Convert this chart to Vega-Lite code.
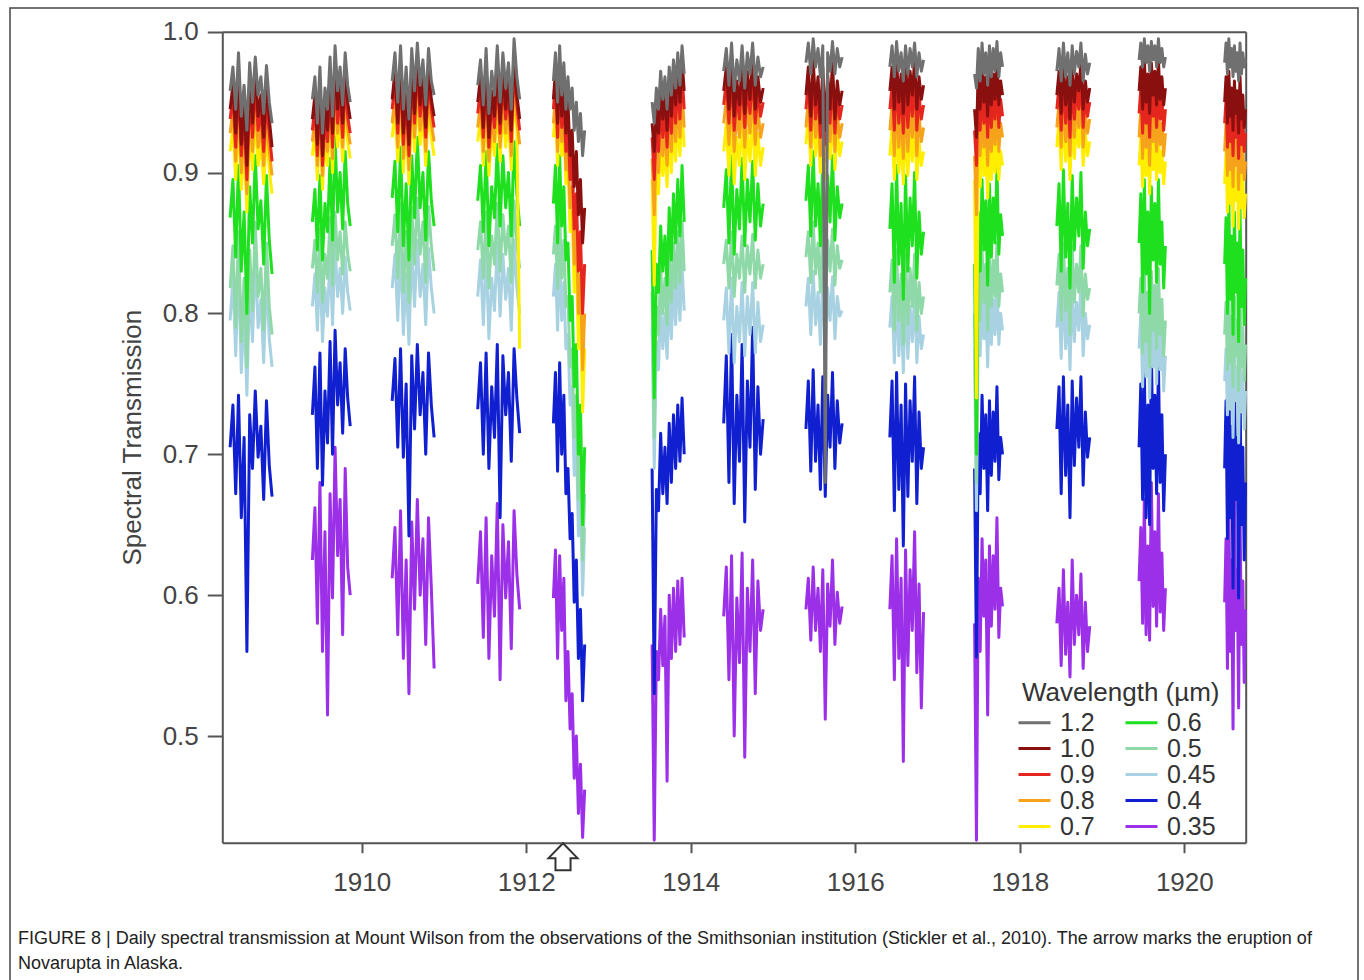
{
  "$schema": "https://vega.github.io/schema/vega-lite/v6.json",
  "width": 1348,
  "height": 985,
  "autosize": "none",
  "padding": {"left": 10, "top": 8, "right": 6, "bottom": 0},
  "background": "white",
  "config": {
    "font": "Liberation Sans",
    "view": {"stroke": "#444444", "strokeWidth": 1.5},
    "axis": {"grid": false}
  },
  "title": {
    "text": ["FIGURE 8 | Daily spectral transmission at Mount Wilson from the observations of the Smithsonian institution (Stickler et al., 2010). The arrow marks the eruption of", "Novarupta in Alaska."],
    "orient": "bottom",
    "anchor": "start",
    "frame": "group",
    "offset": -63,
    "dx": 8,
    "fontSize": 18,
    "fontWeight": "normal",
    "color": "#222222",
    "lineHeight": 25,
    "font": "Liberation Sans"
  },
  "layer": [
    {
      "data": {"values": [
        {"s":1,"t":1908.400,"a":0.958,"b":0.945,"c":0.938,"d":0.928,"e":0.915,"f":0.868,"g":0.818,"h":0.795,"i":0.705},
        {"s":1,"t":1908.434,"a":0.975,"b":0.962,"c":0.955,"d":0.945,"e":0.932,"f":0.895,"g":0.848,"h":0.825,"i":0.735},
        {"s":1,"t":1908.468,"a":0.945,"b":0.928,"c":0.918,"d":0.908,"e":0.895,"f":0.840,"g":0.790,"h":0.770,"i":0.672},
        {"s":1,"t":1908.502,"a":0.985,"b":0.972,"c":0.962,"d":0.952,"e":0.940,"f":0.905,"g":0.858,"h":0.835,"i":0.742},
        {"s":1,"t":1908.536,"a":0.940,"b":0.920,"c":0.912,"d":0.900,"e":0.888,"f":0.830,"g":0.780,"h":0.758,"i":0.655},
        {"s":1,"t":1908.570,"a":0.962,"b":0.950,"c":0.942,"d":0.930,"e":0.918,"f":0.872,"g":0.825,"h":0.802,"i":0.712},
        {"s":1,"t":1908.604,"a":0.930,"b":0.905,"c":0.895,"d":0.885,"e":0.872,"f":0.800,"g":0.762,"h":0.742,"i":0.560},
        {"s":1,"t":1908.638,"a":0.978,"b":0.965,"c":0.955,"d":0.945,"e":0.932,"f":0.890,"g":0.845,"h":0.822,"i":0.728},
        {"s":1,"t":1908.672,"a":0.950,"b":0.935,"c":0.925,"d":0.915,"e":0.902,"f":0.850,"g":0.802,"h":0.780,"i":0.690},
        {"s":1,"t":1908.706,"a":0.982,"b":0.975,"c":0.965,"d":0.952,"e":0.940,"f":0.912,"g":0.865,"h":0.842,"i":0.745},
        {"s":1,"t":1908.740,"a":0.955,"b":0.940,"c":0.930,"d":0.918,"e":0.905,"f":0.860,"g":0.812,"h":0.790,"i":0.698},
        {"s":1,"t":1908.774,"a":0.968,"b":0.955,"c":0.945,"d":0.935,"e":0.922,"f":0.880,"g":0.832,"h":0.810,"i":0.720},
        {"s":1,"t":1908.808,"a":0.942,"b":0.925,"c":0.915,"d":0.905,"e":0.892,"f":0.835,"g":0.788,"h":0.765,"i":0.668},
        {"s":1,"t":1908.842,"a":0.976,"b":0.962,"c":0.950,"d":0.940,"e":0.928,"f":0.898,"g":0.850,"h":0.828,"i":0.738},
        {"s":1,"t":1908.876,"a":0.950,"b":0.938,"c":0.928,"d":0.915,"e":0.902,"f":0.852,"g":0.805,"h":0.782,"i":0.692},
        {"s":1,"t":1908.910,"a":0.935,"b":0.918,"c":0.908,"d":0.898,"e":0.885,"f":0.828,"g":0.785,"h":0.762,"i":0.670},
        {"s":2,"t":1909.400,"a":0.952,"b":0.938,"c":0.930,"d":0.922,"e":0.912,"f":0.865,"g":0.832,"h":0.805,"i":0.728,"j":0.625},
        {"s":2,"t":1909.431,"a":0.968,"b":0.955,"c":0.948,"d":0.940,"e":0.930,"f":0.888,"g":0.852,"h":0.828,"i":0.762,"j":0.662},
        {"s":2,"t":1909.461,"a":0.935,"b":0.920,"c":0.912,"d":0.905,"e":0.895,"f":0.845,"g":0.815,"h":0.788,"i":0.690,"j":0.580},
        {"s":2,"t":1909.492,"a":0.975,"b":0.962,"c":0.955,"d":0.948,"e":0.938,"f":0.898,"g":0.860,"h":0.836,"i":0.772,"j":0.680},
        {"s":2,"t":1909.523,"a":0.928,"b":0.912,"c":0.905,"d":0.898,"e":0.888,"f":0.838,"g":0.808,"h":0.780,"i":0.678,"j":0.560},
        {"s":2,"t":1909.553,"a":0.960,"b":0.948,"c":0.940,"d":0.932,"e":0.922,"f":0.878,"g":0.842,"h":0.818,"i":0.745,"j":0.645},
        {"s":2,"t":1909.584,"a":0.945,"b":0.930,"c":0.922,"d":0.915,"e":0.905,"f":0.858,"g":0.825,"h":0.798,"i":0.708,"j":0.515},
        {"s":2,"t":1909.615,"a":0.982,"b":0.972,"c":0.962,"d":0.955,"e":0.945,"f":0.910,"g":0.868,"h":0.842,"i":0.780,"j":0.672},
        {"s":2,"t":1909.645,"a":0.940,"b":0.928,"c":0.918,"d":0.910,"e":0.900,"f":0.852,"g":0.820,"h":0.792,"i":0.700,"j":0.598},
        {"s":2,"t":1909.676,"a":0.990,"b":0.980,"c":0.970,"d":0.962,"e":0.952,"f":0.925,"g":0.872,"h":0.848,"i":0.788,"j":0.705},
        {"s":2,"t":1909.707,"a":0.958,"b":0.945,"c":0.935,"d":0.928,"e":0.918,"f":0.872,"g":0.838,"h":0.812,"i":0.735,"j":0.628},
        {"s":2,"t":1909.737,"a":0.975,"b":0.965,"c":0.955,"d":0.948,"e":0.938,"f":0.900,"g":0.858,"h":0.832,"i":0.765,"j":0.668},
        {"s":2,"t":1909.768,"a":0.948,"b":0.935,"c":0.925,"d":0.918,"e":0.908,"f":0.860,"g":0.828,"h":0.800,"i":0.715,"j":0.572},
        {"s":2,"t":1909.799,"a":0.985,"b":0.975,"c":0.965,"d":0.956,"e":0.946,"f":0.915,"g":0.865,"h":0.840,"i":0.775,"j":0.690},
        {"s":2,"t":1909.829,"a":0.962,"b":0.950,"c":0.940,"d":0.932,"e":0.922,"f":0.878,"g":0.842,"h":0.815,"i":0.740,"j":0.620},
        {"s":2,"t":1909.860,"a":0.950,"b":0.938,"c":0.928,"d":0.920,"e":0.910,"f":0.862,"g":0.830,"h":0.802,"i":0.720,"j":0.600},
        {"s":3,"t":1910.370,"a":0.965,"b":0.952,"c":0.945,"d":0.935,"e":0.925,"f":0.882,"g":0.848,"h":0.818,"i":0.738,"j":0.612},
        {"s":3,"t":1910.404,"a":0.985,"b":0.972,"c":0.965,"d":0.955,"e":0.945,"f":0.908,"g":0.870,"h":0.842,"i":0.768,"j":0.648},
        {"s":3,"t":1910.438,"a":0.950,"b":0.935,"c":0.928,"d":0.918,"e":0.908,"f":0.858,"g":0.825,"h":0.795,"i":0.705,"j":0.572},
        {"s":3,"t":1910.472,"a":0.990,"b":0.978,"c":0.970,"d":0.962,"e":0.952,"f":0.918,"g":0.878,"h":0.848,"i":0.775,"j":0.660},
        {"s":3,"t":1910.506,"a":0.945,"b":0.928,"c":0.920,"d":0.910,"e":0.900,"f":0.848,"g":0.815,"h":0.785,"i":0.698,"j":0.555},
        {"s":3,"t":1910.540,"a":0.975,"b":0.962,"c":0.955,"d":0.945,"e":0.935,"f":0.892,"g":0.858,"h":0.828,"i":0.750,"j":0.625},
        {"s":3,"t":1910.574,"a":0.938,"b":0.920,"c":0.912,"d":0.902,"e":0.892,"f":0.838,"g":0.808,"h":0.778,"i":0.642,"j":0.530},
        {"s":3,"t":1910.608,"a":0.988,"b":0.975,"c":0.968,"d":0.958,"e":0.948,"f":0.912,"g":0.875,"h":0.845,"i":0.770,"j":0.652},
        {"s":3,"t":1910.642,"a":0.958,"b":0.942,"c":0.935,"d":0.925,"e":0.915,"f":0.868,"g":0.835,"h":0.805,"i":0.718,"j":0.590},
        {"s":3,"t":1910.676,"a":0.992,"b":0.982,"c":0.975,"d":0.965,"e":0.955,"f":0.925,"g":0.882,"h":0.852,"i":0.778,"j":0.668},
        {"s":3,"t":1910.710,"a":0.962,"b":0.948,"c":0.940,"d":0.930,"e":0.920,"f":0.875,"g":0.842,"h":0.812,"i":0.728,"j":0.600},
        {"s":3,"t":1910.744,"a":0.980,"b":0.968,"c":0.960,"d":0.950,"e":0.940,"f":0.900,"g":0.865,"h":0.835,"i":0.758,"j":0.640},
        {"s":3,"t":1910.778,"a":0.948,"b":0.932,"c":0.925,"d":0.915,"e":0.905,"f":0.852,"g":0.822,"h":0.792,"i":0.700,"j":0.565},
        {"s":3,"t":1910.812,"a":0.988,"b":0.975,"c":0.968,"d":0.958,"e":0.948,"f":0.915,"g":0.876,"h":0.846,"i":0.772,"j":0.655},
        {"s":3,"t":1910.846,"a":0.965,"b":0.952,"c":0.945,"d":0.935,"e":0.925,"f":0.880,"g":0.848,"h":0.818,"i":0.735,"j":0.605},
        {"s":3,"t":1910.880,"a":0.955,"b":0.940,"c":0.932,"d":0.922,"e":0.912,"f":0.862,"g":0.830,"h":0.800,"i":0.712,"j":0.548},
        {"s":4,"t":1911.410,"a":0.962,"b":0.950,"c":0.942,"d":0.932,"e":0.922,"f":0.880,"g":0.845,"h":0.812,"i":0.732,"j":0.608},
        {"s":4,"t":1911.444,"a":0.980,"b":0.968,"c":0.960,"d":0.950,"e":0.940,"f":0.905,"g":0.865,"h":0.838,"i":0.765,"j":0.645},
        {"s":4,"t":1911.478,"a":0.948,"b":0.932,"c":0.925,"d":0.915,"e":0.905,"f":0.858,"g":0.825,"h":0.792,"i":0.700,"j":0.570},
        {"s":4,"t":1911.512,"a":0.988,"b":0.975,"c":0.968,"d":0.958,"e":0.948,"f":0.915,"g":0.872,"h":0.845,"i":0.772,"j":0.655},
        {"s":4,"t":1911.546,"a":0.942,"b":0.925,"c":0.918,"d":0.908,"e":0.898,"f":0.848,"g":0.818,"h":0.782,"i":0.690,"j":0.555},
        {"s":4,"t":1911.580,"a":0.972,"b":0.958,"c":0.950,"d":0.940,"e":0.930,"f":0.890,"g":0.855,"h":0.825,"i":0.748,"j":0.628},
        {"s":4,"t":1911.614,"a":0.955,"b":0.940,"c":0.932,"d":0.922,"e":0.912,"f":0.868,"g":0.835,"h":0.802,"i":0.712,"j":0.585},
        {"s":4,"t":1911.648,"a":0.990,"b":0.978,"c":0.970,"d":0.960,"e":0.950,"f":0.920,"g":0.878,"h":0.850,"i":0.778,"j":0.665},
        {"s":4,"t":1911.682,"a":0.950,"b":0.935,"c":0.928,"d":0.918,"e":0.908,"f":0.862,"g":0.830,"h":0.798,"i":0.655,"j":0.540},
        {"s":4,"t":1911.716,"a":0.985,"b":0.972,"c":0.965,"d":0.955,"e":0.945,"f":0.912,"g":0.870,"h":0.842,"i":0.770,"j":0.650},
        {"s":4,"t":1911.750,"a":0.960,"b":0.945,"c":0.938,"d":0.928,"e":0.918,"f":0.875,"g":0.842,"h":0.810,"i":0.728,"j":0.598},
        {"s":4,"t":1911.784,"a":0.978,"b":0.965,"c":0.958,"d":0.948,"e":0.938,"f":0.900,"g":0.862,"h":0.832,"i":0.758,"j":0.638},
        {"s":4,"t":1911.818,"a":0.945,"b":0.930,"c":0.922,"d":0.912,"e":0.902,"f":0.855,"g":0.822,"h":0.788,"i":0.695,"j":0.562},
        {"s":4,"t":1911.852,"a":0.995,"b":0.982,"c":0.975,"d":0.965,"e":0.955,"f":0.922,"g":0.880,"h":0.852,"i":0.775,"j":0.660},
        {"s":4,"t":1911.886,"a":0.968,"b":0.955,"c":0.948,"d":0.938,"e":0.930,"f":0.885,"g":0.850,"h":0.818,"i":0.740,"j":0.615},
        {"s":4,"t":1911.920,"a":0.952,"b":0.938,"c":0.930,"d":0.920,"e":0.775,"f":0.862,"g":0.832,"h":0.800,"i":0.715,"j":0.590},
        {"s":5,"t":1912.330,"a":0.965,"b":0.952,"c":0.945,"d":0.935,"e":0.925,"f":0.878,"g":0.842,"h":0.812,"i":0.722,"j":0.598},
        {"s":5,"t":1912.355,"a":0.985,"b":0.972,"c":0.965,"d":0.955,"e":0.945,"f":0.905,"g":0.862,"h":0.835,"i":0.758,"j":0.632},
        {"s":5,"t":1912.381,"a":0.950,"b":0.935,"c":0.925,"d":0.915,"e":0.905,"f":0.850,"g":0.818,"h":0.788,"i":0.688,"j":0.555},
        {"s":5,"t":1912.406,"a":0.990,"b":0.978,"c":0.970,"d":0.960,"e":0.950,"f":0.912,"g":0.870,"h":0.842,"i":0.765,"j":0.628},
        {"s":5,"t":1912.431,"a":0.955,"b":0.940,"c":0.932,"d":0.922,"e":0.912,"f":0.862,"g":0.825,"h":0.795,"i":0.700,"j":0.575},
        {"s":5,"t":1912.457,"a":0.978,"b":0.965,"c":0.955,"d":0.945,"e":0.935,"f":0.890,"g":0.852,"h":0.822,"i":0.742,"j":0.612},
        {"s":5,"t":1912.482,"a":0.945,"b":0.928,"c":0.915,"d":0.902,"e":0.892,"f":0.838,"g":0.805,"h":0.775,"i":0.672,"j":0.525},
        {"s":5,"t":1912.507,"a":0.968,"b":0.950,"c":0.935,"d":0.920,"e":0.905,"f":0.850,"g":0.812,"h":0.785,"i":0.690,"j":0.560},
        {"s":5,"t":1912.533,"a":0.945,"b":0.912,"c":0.895,"d":0.875,"e":0.858,"f":0.795,"g":0.762,"h":0.735,"i":0.640,"j":0.505},
        {"s":5,"t":1912.558,"a":0.960,"b":0.930,"c":0.912,"d":0.890,"e":0.872,"f":0.812,"g":0.775,"h":0.748,"i":0.658,"j":0.530},
        {"s":5,"t":1912.583,"a":0.930,"b":0.890,"c":0.860,"d":0.835,"e":0.815,"f":0.748,"g":0.712,"h":0.685,"i":0.595,"j":0.470},
        {"s":5,"t":1912.609,"a":0.950,"b":0.915,"c":0.885,"d":0.862,"e":0.842,"f":0.778,"g":0.742,"h":0.715,"i":0.625,"j":0.500},
        {"s":5,"t":1912.634,"a":0.922,"b":0.870,"c":0.830,"d":0.800,"e":0.775,"f":0.700,"g":0.668,"h":0.642,"i":0.555,"j":0.445},
        {"s":5,"t":1912.659,"a":0.942,"b":0.895,"c":0.858,"d":0.828,"e":0.805,"f":0.735,"g":0.700,"h":0.675,"i":0.590,"j":0.480},
        {"s":5,"t":1912.685,"a":0.912,"b":0.850,"c":0.800,"d":0.760,"e":0.730,"f":0.650,"g":0.625,"h":0.600,"i":0.525,"j":0.428},
        {"s":5,"t":1912.710,"a":0.930,"b":0.875,"c":0.835,"d":0.800,"e":0.775,"f":0.705,"g":0.672,"h":0.648,"i":0.565,"j":0.462},
        {"s":6,"t":1913.530,"a":0.950,"b":0.935,"c":0.925,"d":0.910,"e":0.895,"f":0.845,"g":0.815,"h":0.790,"i":0.690,"j":0.565},
        {"s":6,"t":1913.556,"a":0.935,"b":0.915,"c":0.895,"d":0.870,"e":0.820,"f":0.740,"g":0.712,"h":0.690,"i":0.530,"j":0.426},
        {"s":6,"t":1913.582,"a":0.960,"b":0.945,"c":0.935,"d":0.922,"e":0.910,"f":0.835,"g":0.805,"h":0.780,"i":0.675,"j":0.560},
        {"s":6,"t":1913.608,"a":0.945,"b":0.928,"c":0.915,"d":0.900,"e":0.885,"f":0.815,"g":0.785,"h":0.760,"i":0.660,"j":0.540},
        {"s":6,"t":1913.634,"a":0.972,"b":0.960,"c":0.950,"d":0.938,"e":0.925,"f":0.862,"g":0.832,"h":0.808,"i":0.715,"j":0.590},
        {"s":6,"t":1913.660,"a":0.952,"b":0.938,"c":0.925,"d":0.912,"e":0.898,"f":0.830,"g":0.800,"h":0.775,"i":0.672,"j":0.550},
        {"s":6,"t":1913.686,"a":0.968,"b":0.955,"c":0.945,"d":0.932,"e":0.918,"f":0.855,"g":0.825,"h":0.800,"i":0.705,"j":0.585},
        {"s":6,"t":1913.712,"a":0.945,"b":0.930,"c":0.918,"d":0.905,"e":0.890,"f":0.820,"g":0.792,"h":0.768,"i":0.665,"j":0.468},
        {"s":6,"t":1913.738,"a":0.975,"b":0.965,"c":0.955,"d":0.942,"e":0.930,"f":0.875,"g":0.842,"h":0.815,"i":0.722,"j":0.600},
        {"s":6,"t":1913.764,"a":0.955,"b":0.940,"c":0.928,"d":0.915,"e":0.900,"f":0.838,"g":0.808,"h":0.782,"i":0.680,"j":0.555},
        {"s":6,"t":1913.790,"a":0.980,"b":0.970,"c":0.960,"d":0.948,"e":0.935,"f":0.885,"g":0.850,"h":0.822,"i":0.728,"j":0.605},
        {"s":6,"t":1913.816,"a":0.960,"b":0.948,"c":0.935,"d":0.922,"e":0.908,"f":0.850,"g":0.818,"h":0.792,"i":0.690,"j":0.560},
        {"s":6,"t":1913.842,"a":0.985,"b":0.975,"c":0.965,"d":0.952,"e":0.940,"f":0.895,"g":0.858,"h":0.830,"i":0.735,"j":0.610},
        {"s":6,"t":1913.868,"a":0.962,"b":0.950,"c":0.938,"d":0.925,"e":0.912,"f":0.855,"g":0.822,"h":0.795,"i":0.695,"j":0.565},
        {"s":6,"t":1913.894,"a":0.990,"b":0.980,"c":0.970,"d":0.958,"e":0.945,"f":0.905,"g":0.865,"h":0.835,"i":0.740,"j":0.612},
        {"s":6,"t":1913.920,"a":0.970,"b":0.958,"c":0.945,"d":0.932,"e":0.918,"f":0.865,"g":0.830,"h":0.802,"i":0.700,"j":0.570},
        {"s":7,"t":1914.400,"a":0.972,"b":0.958,"c":0.948,"d":0.935,"e":0.915,"f":0.875,"g":0.835,"h":0.795,"i":0.722,"j":0.585},
        {"s":7,"t":1914.432,"a":0.988,"b":0.975,"c":0.965,"d":0.952,"e":0.935,"f":0.902,"g":0.852,"h":0.818,"i":0.770,"j":0.620},
        {"s":7,"t":1914.464,"a":0.962,"b":0.945,"c":0.935,"d":0.920,"e":0.898,"f":0.850,"g":0.818,"h":0.772,"i":0.680,"j":0.540},
        {"s":7,"t":1914.496,"a":0.992,"b":0.980,"c":0.970,"d":0.958,"e":0.942,"f":0.912,"g":0.858,"h":0.825,"i":0.785,"j":0.628},
        {"s":7,"t":1914.528,"a":0.958,"b":0.940,"c":0.930,"d":0.915,"e":0.892,"f":0.842,"g":0.812,"h":0.765,"i":0.665,"j":0.500},
        {"s":7,"t":1914.560,"a":0.980,"b":0.965,"c":0.955,"d":0.942,"e":0.925,"f":0.888,"g":0.842,"h":0.805,"i":0.742,"j":0.598},
        {"s":7,"t":1914.592,"a":0.965,"b":0.948,"c":0.938,"d":0.925,"e":0.905,"f":0.860,"g":0.825,"h":0.780,"i":0.695,"j":0.552},
        {"s":7,"t":1914.624,"a":0.990,"b":0.978,"c":0.968,"d":0.955,"e":0.940,"f":0.910,"g":0.855,"h":0.822,"i":0.778,"j":0.630},
        {"s":7,"t":1914.656,"a":0.960,"b":0.942,"c":0.932,"d":0.918,"e":0.895,"f":0.848,"g":0.815,"h":0.770,"i":0.652,"j":0.485},
        {"s":7,"t":1914.688,"a":0.985,"b":0.972,"c":0.962,"d":0.948,"e":0.930,"f":0.895,"g":0.848,"h":0.812,"i":0.752,"j":0.605},
        {"s":7,"t":1914.720,"a":0.970,"b":0.952,"c":0.942,"d":0.928,"e":0.908,"f":0.865,"g":0.828,"h":0.785,"i":0.705,"j":0.560},
        {"s":7,"t":1914.752,"a":0.992,"b":0.980,"c":0.970,"d":0.958,"e":0.942,"f":0.908,"g":0.856,"h":0.822,"i":0.790,"j":0.625},
        {"s":7,"t":1914.784,"a":0.962,"b":0.945,"c":0.935,"d":0.920,"e":0.898,"f":0.852,"g":0.818,"h":0.772,"i":0.675,"j":0.530},
        {"s":7,"t":1914.816,"a":0.982,"b":0.968,"c":0.958,"d":0.945,"e":0.928,"f":0.892,"g":0.845,"h":0.808,"i":0.748,"j":0.610},
        {"s":7,"t":1914.848,"a":0.968,"b":0.950,"c":0.940,"d":0.925,"e":0.905,"f":0.862,"g":0.825,"h":0.780,"i":0.700,"j":0.575},
        {"s":7,"t":1914.880,"a":0.975,"b":0.960,"c":0.950,"d":0.935,"e":0.918,"f":0.878,"g":0.835,"h":0.792,"i":0.725,"j":0.590},
        {"s":8,"t":1915.400,"a":0.978,"b":0.955,"c":0.945,"d":0.932,"e":0.920,"f":0.880,"g":0.840,"h":0.805,"i":0.718,"j":0.590},
        {"s":8,"t":1915.429,"a":0.992,"b":0.975,"c":0.965,"d":0.952,"e":0.940,"f":0.905,"g":0.858,"h":0.825,"i":0.752,"j":0.612},
        {"s":8,"t":1915.459,"a":0.970,"b":0.940,"c":0.930,"d":0.918,"e":0.905,"f":0.855,"g":0.822,"h":0.785,"i":0.688,"j":0.568},
        {"s":8,"t":1915.488,"a":0.995,"b":0.980,"c":0.970,"d":0.958,"e":0.945,"f":0.915,"g":0.865,"h":0.830,"i":0.760,"j":0.620},
        {"s":8,"t":1915.517,"a":0.975,"b":0.948,"c":0.938,"d":0.925,"e":0.912,"f":0.862,"g":0.828,"h":0.792,"i":0.695,"j":0.575},
        {"s":8,"t":1915.547,"a":0.988,"b":0.968,"c":0.958,"d":0.945,"e":0.932,"f":0.892,"g":0.850,"h":0.815,"i":0.735,"j":0.605},
        {"s":8,"t":1915.576,"a":0.968,"b":0.935,"c":0.925,"d":0.912,"e":0.900,"f":0.848,"g":0.815,"h":0.778,"i":0.675,"j":0.560},
        {"s":8,"t":1915.605,"a":0.990,"b":0.975,"c":0.965,"d":0.952,"e":0.940,"f":0.910,"g":0.862,"h":0.828,"i":0.755,"j":0.618},
        {"s":8,"t":1915.635,"a":0.680,"b":0.930,"c":0.920,"d":0.908,"e":0.895,"f":0.845,"g":0.812,"h":0.772,"i":0.670,"j":0.512},
        {"s":8,"t":1915.664,"a":0.985,"b":0.970,"c":0.960,"d":0.948,"e":0.935,"f":0.898,"g":0.852,"h":0.818,"i":0.742,"j":0.608},
        {"s":8,"t":1915.693,"a":0.972,"b":0.945,"c":0.935,"d":0.922,"e":0.910,"f":0.865,"g":0.830,"h":0.795,"i":0.705,"j":0.578},
        {"s":8,"t":1915.723,"a":0.993,"b":0.978,"c":0.968,"d":0.955,"e":0.942,"f":0.912,"g":0.860,"h":0.826,"i":0.758,"j":0.625},
        {"s":8,"t":1915.752,"a":0.970,"b":0.938,"c":0.928,"d":0.915,"e":0.902,"f":0.852,"g":0.820,"h":0.782,"i":0.690,"j":0.565},
        {"s":8,"t":1915.781,"a":0.988,"b":0.965,"c":0.955,"d":0.942,"e":0.930,"f":0.890,"g":0.848,"h":0.812,"i":0.738,"j":0.602},
        {"s":8,"t":1915.811,"a":0.975,"b":0.948,"c":0.938,"d":0.925,"e":0.912,"f":0.868,"g":0.832,"h":0.798,"i":0.708,"j":0.580},
        {"s":8,"t":1915.840,"a":0.982,"b":0.958,"c":0.948,"d":0.935,"e":0.922,"f":0.878,"g":0.838,"h":0.802,"i":0.722,"j":0.592},
        {"s":9,"t":1916.420,"a":0.975,"b":0.958,"c":0.945,"d":0.930,"e":0.912,"f":0.860,"g":0.815,"h":0.790,"i":0.712,"j":0.590},
        {"s":9,"t":1916.447,"a":0.990,"b":0.975,"c":0.962,"d":0.948,"e":0.932,"f":0.892,"g":0.838,"h":0.812,"i":0.752,"j":0.628},
        {"s":9,"t":1916.475,"a":0.968,"b":0.945,"c":0.930,"d":0.912,"e":0.895,"f":0.822,"g":0.788,"h":0.765,"i":0.660,"j":0.540},
        {"s":9,"t":1916.502,"a":0.993,"b":0.980,"c":0.968,"d":0.955,"e":0.940,"f":0.905,"g":0.845,"h":0.818,"i":0.758,"j":0.640},
        {"s":9,"t":1916.529,"a":0.972,"b":0.950,"c":0.935,"d":0.918,"e":0.900,"f":0.835,"g":0.795,"h":0.770,"i":0.675,"j":0.555},
        {"s":9,"t":1916.557,"a":0.985,"b":0.970,"c":0.958,"d":0.942,"e":0.925,"f":0.878,"g":0.828,"h":0.802,"i":0.735,"j":0.612},
        {"s":9,"t":1916.584,"a":0.965,"b":0.942,"c":0.928,"d":0.910,"e":0.892,"f":0.810,"g":0.778,"h":0.758,"i":0.635,"j":0.482},
        {"s":9,"t":1916.611,"a":0.990,"b":0.978,"c":0.965,"d":0.952,"e":0.935,"f":0.898,"g":0.842,"h":0.815,"i":0.750,"j":0.632},
        {"s":9,"t":1916.639,"a":0.970,"b":0.948,"c":0.932,"d":0.915,"e":0.898,"f":0.830,"g":0.792,"h":0.768,"i":0.670,"j":0.550},
        {"s":9,"t":1916.666,"a":0.988,"b":0.972,"c":0.960,"d":0.945,"e":0.928,"f":0.882,"g":0.832,"h":0.805,"i":0.738,"j":0.618},
        {"s":9,"t":1916.693,"a":0.975,"b":0.955,"c":0.940,"d":0.925,"e":0.908,"f":0.848,"g":0.805,"h":0.780,"i":0.695,"j":0.575},
        {"s":9,"t":1916.721,"a":0.992,"b":0.980,"c":0.968,"d":0.955,"e":0.938,"f":0.900,"g":0.842,"h":0.815,"i":0.755,"j":0.645},
        {"s":9,"t":1916.748,"a":0.968,"b":0.945,"c":0.930,"d":0.912,"e":0.895,"f":0.825,"g":0.788,"h":0.765,"i":0.665,"j":0.545},
        {"s":9,"t":1916.775,"a":0.985,"b":0.968,"c":0.955,"d":0.940,"e":0.922,"f":0.872,"g":0.822,"h":0.798,"i":0.730,"j":0.608},
        {"s":9,"t":1916.803,"a":0.972,"b":0.952,"c":0.938,"d":0.922,"e":0.905,"f":0.842,"g":0.800,"h":0.775,"i":0.690,"j":0.520},
        {"s":9,"t":1916.830,"a":0.980,"b":0.962,"c":0.948,"d":0.932,"e":0.915,"f":0.858,"g":0.812,"h":0.785,"i":0.705,"j":0.588},
        {"s":10,"t":1917.450,"a":0.970,"b":0.945,"c":0.930,"d":0.912,"e":0.895,"f":0.835,"g":0.800,"h":0.775,"i":0.690,"j":0.580},
        {"s":10,"t":1917.473,"a":0.960,"b":0.925,"c":0.905,"d":0.870,"e":0.740,"f":0.700,"g":0.680,"h":0.660,"i":0.556,"j":0.426},
        {"s":10,"t":1917.495,"a":0.988,"b":0.972,"c":0.960,"d":0.945,"e":0.925,"f":0.872,"g":0.830,"h":0.805,"i":0.715,"j":0.612},
        {"s":10,"t":1917.518,"a":0.965,"b":0.945,"c":0.930,"d":0.912,"e":0.890,"f":0.830,"g":0.795,"h":0.770,"i":0.672,"j":0.560},
        {"s":10,"t":1917.541,"a":0.992,"b":0.978,"c":0.965,"d":0.950,"e":0.932,"f":0.895,"g":0.845,"h":0.818,"i":0.742,"j":0.640},
        {"s":10,"t":1917.563,"a":0.970,"b":0.950,"c":0.935,"d":0.918,"e":0.898,"f":0.845,"g":0.808,"h":0.782,"i":0.690,"j":0.585},
        {"s":10,"t":1917.586,"a":0.985,"b":0.968,"c":0.955,"d":0.940,"e":0.920,"f":0.880,"g":0.835,"h":0.808,"i":0.728,"j":0.625},
        {"s":10,"t":1917.609,"a":0.962,"b":0.940,"c":0.925,"d":0.905,"e":0.882,"f":0.820,"g":0.788,"h":0.762,"i":0.660,"j":0.515},
        {"s":10,"t":1917.631,"a":0.990,"b":0.975,"c":0.962,"d":0.948,"e":0.928,"f":0.892,"g":0.842,"h":0.815,"i":0.738,"j":0.635},
        {"s":10,"t":1917.654,"a":0.968,"b":0.948,"c":0.932,"d":0.915,"e":0.895,"f":0.840,"g":0.805,"h":0.778,"i":0.685,"j":0.578},
        {"s":10,"t":1917.677,"a":0.988,"b":0.970,"c":0.958,"d":0.942,"e":0.922,"f":0.882,"g":0.838,"h":0.810,"i":0.730,"j":0.628},
        {"s":10,"t":1917.699,"a":0.972,"b":0.952,"c":0.938,"d":0.920,"e":0.900,"f":0.850,"g":0.812,"h":0.785,"i":0.695,"j":0.590},
        {"s":10,"t":1917.722,"a":0.993,"b":0.980,"c":0.968,"d":0.952,"e":0.935,"f":0.905,"g":0.850,"h":0.822,"i":0.748,"j":0.655},
        {"s":10,"t":1917.745,"a":0.968,"b":0.948,"c":0.932,"d":0.915,"e":0.895,"f":0.842,"g":0.805,"h":0.778,"i":0.682,"j":0.570},
        {"s":10,"t":1917.767,"a":0.985,"b":0.965,"c":0.952,"d":0.935,"e":0.915,"f":0.870,"g":0.828,"h":0.800,"i":0.712,"j":0.605},
        {"s":10,"t":1917.790,"a":0.975,"b":0.955,"c":0.940,"d":0.925,"e":0.905,"f":0.855,"g":0.815,"h":0.788,"i":0.700,"j":0.592},
        {"s":11,"t":1918.450,"a":0.972,"b":0.955,"c":0.945,"d":0.932,"e":0.918,"f":0.862,"g":0.820,"h":0.790,"i":0.718,"j":0.580},
        {"s":11,"t":1918.477,"a":0.988,"b":0.972,"c":0.962,"d":0.950,"e":0.938,"f":0.892,"g":0.842,"h":0.815,"i":0.748,"j":0.605},
        {"s":11,"t":1918.503,"a":0.965,"b":0.942,"c":0.930,"d":0.918,"e":0.902,"f":0.830,"g":0.795,"h":0.768,"i":0.672,"j":0.550},
        {"s":11,"t":1918.530,"a":0.992,"b":0.978,"c":0.968,"d":0.955,"e":0.945,"f":0.902,"g":0.850,"h":0.822,"i":0.755,"j":0.618},
        {"s":11,"t":1918.557,"a":0.968,"b":0.948,"c":0.935,"d":0.922,"e":0.908,"f":0.840,"g":0.802,"h":0.775,"i":0.685,"j":0.558},
        {"s":11,"t":1918.583,"a":0.985,"b":0.968,"c":0.958,"d":0.945,"e":0.932,"f":0.878,"g":0.832,"h":0.805,"i":0.735,"j":0.595},
        {"s":11,"t":1918.610,"a":0.962,"b":0.938,"c":0.925,"d":0.912,"e":0.895,"f":0.818,"g":0.785,"h":0.760,"i":0.655,"j":0.542},
        {"s":11,"t":1918.637,"a":0.990,"b":0.975,"c":0.965,"d":0.952,"e":0.940,"f":0.898,"g":0.848,"h":0.820,"i":0.752,"j":0.625},
        {"s":11,"t":1918.663,"a":0.970,"b":0.950,"c":0.938,"d":0.925,"e":0.910,"f":0.845,"g":0.808,"h":0.780,"i":0.692,"j":0.565},
        {"s":11,"t":1918.690,"a":0.986,"b":0.970,"c":0.960,"d":0.948,"e":0.935,"f":0.882,"g":0.835,"h":0.808,"i":0.740,"j":0.600},
        {"s":11,"t":1918.717,"a":0.975,"b":0.958,"c":0.945,"d":0.932,"e":0.918,"f":0.855,"g":0.815,"h":0.788,"i":0.705,"j":0.572},
        {"s":11,"t":1918.743,"a":0.992,"b":0.978,"c":0.968,"d":0.955,"e":0.942,"f":0.900,"g":0.848,"h":0.822,"i":0.755,"j":0.615},
        {"s":11,"t":1918.770,"a":0.965,"b":0.945,"c":0.932,"d":0.918,"e":0.905,"f":0.832,"g":0.798,"h":0.770,"i":0.678,"j":0.548},
        {"s":11,"t":1918.797,"a":0.984,"b":0.965,"c":0.955,"d":0.942,"e":0.928,"f":0.872,"g":0.828,"h":0.800,"i":0.730,"j":0.595},
        {"s":11,"t":1918.823,"a":0.970,"b":0.950,"c":0.940,"d":0.928,"e":0.912,"f":0.848,"g":0.810,"h":0.782,"i":0.698,"j":0.560},
        {"s":11,"t":1918.850,"a":0.978,"b":0.960,"c":0.950,"d":0.938,"e":0.922,"f":0.860,"g":0.818,"h":0.792,"i":0.712,"j":0.578},
        {"s":12,"t":1919.450,"a":0.980,"b":0.958,"c":0.942,"d":0.925,"e":0.905,"f":0.850,"g":0.800,"h":0.775,"i":0.705,"j":0.610},
        {"s":12,"t":1919.471,"a":0.992,"b":0.975,"c":0.960,"d":0.945,"e":0.925,"f":0.885,"g":0.825,"h":0.800,"i":0.750,"j":0.648},
        {"s":12,"t":1919.493,"a":0.975,"b":0.945,"c":0.928,"d":0.910,"e":0.890,"f":0.815,"g":0.772,"h":0.748,"i":0.668,"j":0.580},
        {"s":12,"t":1919.514,"a":0.995,"b":0.980,"c":0.965,"d":0.950,"e":0.930,"f":0.895,"g":0.832,"h":0.808,"i":0.762,"j":0.668},
        {"s":12,"t":1919.535,"a":0.978,"b":0.950,"c":0.935,"d":0.918,"e":0.898,"f":0.828,"g":0.780,"h":0.755,"i":0.655,"j":0.572},
        {"s":12,"t":1919.557,"a":0.990,"b":0.970,"c":0.955,"d":0.940,"e":0.920,"f":0.872,"g":0.815,"h":0.790,"i":0.735,"j":0.635},
        {"s":12,"t":1919.578,"a":0.972,"b":0.942,"c":0.925,"d":0.905,"e":0.885,"f":0.800,"g":0.762,"h":0.740,"i":0.650,"j":0.568},
        {"s":12,"t":1919.599,"a":0.993,"b":0.978,"c":0.962,"d":0.948,"e":0.928,"f":0.890,"g":0.830,"h":0.805,"i":0.775,"j":0.680},
        {"s":12,"t":1919.621,"a":0.980,"b":0.955,"c":0.940,"d":0.922,"e":0.902,"f":0.838,"g":0.788,"h":0.762,"i":0.690,"j":0.592},
        {"s":12,"t":1919.642,"a":0.990,"b":0.972,"c":0.958,"d":0.942,"e":0.922,"f":0.878,"g":0.820,"h":0.795,"i":0.742,"j":0.645},
        {"s":12,"t":1919.663,"a":0.975,"b":0.948,"c":0.932,"d":0.915,"e":0.895,"f":0.822,"g":0.775,"h":0.750,"i":0.672,"j":0.578},
        {"s":12,"t":1919.685,"a":0.995,"b":0.980,"c":0.965,"d":0.950,"e":0.930,"f":0.895,"g":0.832,"h":0.808,"i":0.765,"j":0.672},
        {"s":12,"t":1919.706,"a":0.978,"b":0.952,"c":0.938,"d":0.920,"e":0.900,"f":0.835,"g":0.785,"h":0.760,"i":0.680,"j":0.588},
        {"s":12,"t":1919.727,"a":0.988,"b":0.968,"c":0.952,"d":0.935,"e":0.915,"f":0.865,"g":0.810,"h":0.785,"i":0.728,"j":0.630},
        {"s":12,"t":1919.749,"a":0.975,"b":0.948,"c":0.930,"d":0.912,"e":0.892,"f":0.818,"g":0.770,"h":0.745,"i":0.660,"j":0.575},
        {"s":12,"t":1919.770,"a":0.982,"b":0.960,"c":0.945,"d":0.928,"e":0.908,"f":0.848,"g":0.795,"h":0.770,"i":0.700,"j":0.605},
        {"s":13,"t":1920.490,"a":0.978,"b":0.950,"c":0.935,"d":0.915,"e":0.892,"f":0.835,"g":0.785,"h":0.752,"i":0.690,"j":0.595},
        {"s":13,"t":1920.507,"a":0.992,"b":0.968,"c":0.952,"d":0.935,"e":0.915,"f":0.868,"g":0.808,"h":0.775,"i":0.738,"j":0.640},
        {"s":13,"t":1920.524,"a":0.970,"b":0.935,"c":0.918,"d":0.898,"e":0.872,"f":0.800,"g":0.760,"h":0.728,"i":0.640,"j":0.548},
        {"s":13,"t":1920.541,"a":0.995,"b":0.972,"c":0.958,"d":0.940,"e":0.922,"f":0.880,"g":0.815,"h":0.780,"i":0.765,"j":0.672},
        {"s":13,"t":1920.558,"a":0.975,"b":0.940,"c":0.922,"d":0.902,"e":0.878,"f":0.810,"g":0.765,"h":0.732,"i":0.655,"j":0.560},
        {"s":13,"t":1920.575,"a":0.988,"b":0.960,"c":0.945,"d":0.925,"e":0.905,"f":0.855,"g":0.798,"h":0.765,"i":0.720,"j":0.625},
        {"s":13,"t":1920.592,"a":0.968,"b":0.930,"c":0.912,"d":0.890,"e":0.862,"f":0.785,"g":0.748,"h":0.712,"i":0.605,"j":0.505},
        {"s":13,"t":1920.609,"a":0.990,"b":0.965,"c":0.950,"d":0.932,"e":0.912,"f":0.872,"g":0.812,"h":0.778,"i":0.755,"j":0.688},
        {"s":13,"t":1920.626,"a":0.972,"b":0.942,"c":0.925,"d":0.905,"e":0.880,"f":0.815,"g":0.770,"h":0.738,"i":0.668,"j":0.575},
        {"s":13,"t":1920.643,"a":0.985,"b":0.958,"c":0.942,"d":0.922,"e":0.900,"f":0.850,"g":0.795,"h":0.762,"i":0.712,"j":0.618},
        {"s":13,"t":1920.660,"a":0.965,"b":0.928,"c":0.910,"d":0.888,"e":0.860,"f":0.780,"g":0.745,"h":0.708,"i":0.598,"j":0.520},
        {"s":13,"t":1920.677,"a":0.992,"b":0.968,"c":0.952,"d":0.935,"e":0.915,"f":0.875,"g":0.815,"h":0.780,"i":0.748,"j":0.660},
        {"s":13,"t":1920.694,"a":0.970,"b":0.938,"c":0.920,"d":0.900,"e":0.875,"f":0.805,"g":0.762,"h":0.730,"i":0.650,"j":0.565},
        {"s":13,"t":1920.711,"a":0.985,"b":0.955,"c":0.940,"d":0.920,"e":0.898,"f":0.845,"g":0.790,"h":0.758,"i":0.705,"j":0.610},
        {"s":13,"t":1920.728,"a":0.975,"b":0.932,"c":0.915,"d":0.895,"e":0.868,"f":0.792,"g":0.752,"h":0.718,"i":0.625,"j":0.538},
        {"s":13,"t":1920.744,"a":0.980,"b":0.945,"c":0.928,"d":0.908,"e":0.885,"f":0.825,"g":0.778,"h":0.745,"i":0.680,"j":0.590}
      ]},
      "transform": [
        {"fold": ["j", "i", "h", "g", "f", "e", "d", "c", "b", "a"], "as": ["wl", "v"]},
        {"filter": "isValid(datum.v)"}
      ],
      "mark": {"type": "line", "strokeWidth": 3, "strokeJoin": "round", "clip": false},
      "encoding": {
        "x": {
          "field": "t", "type": "quantitative",
          "scale": {"domain": [1908.305, 1920.746], "range": [212.3, 1235.7], "nice": false, "zero": false},
          "axis": {
            "orient": "bottom", "offset": -150.3,
            "values": [1910, 1912, 1914, 1916, 1918, 1920], "format": "d",
            "title": null, "grid": false, "labelFlush": false,
            "domainColor": "#555555", "domainWidth": 2,
            "tickColor": "#555555", "tickWidth": 2, "tickSize": 10,
            "labelFontSize": 26, "labelColor": "#444444", "labelPadding": 17, "labelFont": "Liberation Sans"
          }
        },
        "y": {
          "field": "v", "type": "quantitative",
          "scale": {"domain": [0.4243, 1.0], "range": [834.7, 23.7], "nice": false, "zero": false},
          "axis": {
            "orient": "left", "offset": -212.3,
            "values": [0.5, 0.6, 0.7, 0.8, 0.9, 1.0], "format": ".1f",
            "title": "Spectral Transmission", "titleFontSize": 26, "titleFontWeight": "normal",
            "titleColor": "#444444", "titlePadding": 17, "titleFont": "Liberation Sans",
            "grid": false,
            "domainColor": "#555555", "domainWidth": 2,
            "tickColor": "#555555", "tickWidth": 2, "tickSize": 15,
            "labelFontSize": 26, "labelColor": "#444444", "labelPadding": 9, "labelFont": "Liberation Sans"
          }
        },
        "color": {
          "field": "wl", "type": "nominal",
          "scale": {
            "domain": ["a", "b", "c", "d", "e", "f", "g", "h", "i", "j"],
            "range": ["#707070", "#8a1010", "#e4261e", "#f7a21b", "#ffee00", "#1fe01f", "#8fd9a8", "#a8d2e2", "#1020d0", "#9b30e8"]
          },
          "legend": {
            "orient": "none", "legendX": 1012, "legendY": 672,
            "columns": 2, "padding": 0,
            "title": "Wavelength (µm)", "titleFontSize": 26, "titleFontWeight": "normal", "titleLimit": 500,
            "titleColor": "#333333", "titlePadding": 4, "titleFont": "Liberation Sans",
            "labelFontSize": 25, "labelColor": "#333333", "labelFont": "Liberation Sans", "labelOffset": 13,
            "symbolType": "M-1.6,0L1.6,0", "symbolSize": 400, "symbolStrokeWidth": 3,
            "columnPadding": 24, "rowPadding": 0,
            "labelExpr": "['1.2','1.0','0.9','0.8','0.7','0.6','0.5','0.45','0.4','0.35'][indexof(['a','b','c','d','e','f','g','h','i','j'], datum.label)]"
          }
        },
        "detail": {"field": "s", "type": "nominal"}
      }
    },
    {
      "data": {"values": [{"t": 1912.447, "v": 0.4243}]},
      "mark": {
        "type": "point",
        "shape": "M0,-0.93L1,0.1L0.52,0.1L0.52,0.93L-0.52,0.93L-0.52,0.1L-1,0.1Z",
        "size": 841, "filled": true, "fill": "white", "stroke": "#333333", "strokeWidth": 2,
        "opacity": 1, "yOffset": 14, "clip": false
      },
      "encoding": {
        "x": {
          "field": "t", "type": "quantitative",
          "scale": {"domain": [1908.305, 1920.746], "range": [212.3, 1235.7], "nice": false, "zero": false},
          "axis": {"orient": "top", "offset": -23.7, "labels": false, "ticks": false, "title": null, "grid": false, "domainColor": "#555555", "domainWidth": 2}
        },
        "y": {
          "field": "v", "type": "quantitative",
          "scale": {"domain": [0.4243, 1.0], "range": [834.7, 23.7], "nice": false, "zero": false},
          "axis": {"orient": "right", "offset": -112.3, "labels": false, "ticks": false, "title": null, "grid": false, "domainColor": "#555555", "domainWidth": 2}
        }
      }
    }
  ],
  "resolve": {"axis": {"x": "independent", "y": "independent"}}
}
